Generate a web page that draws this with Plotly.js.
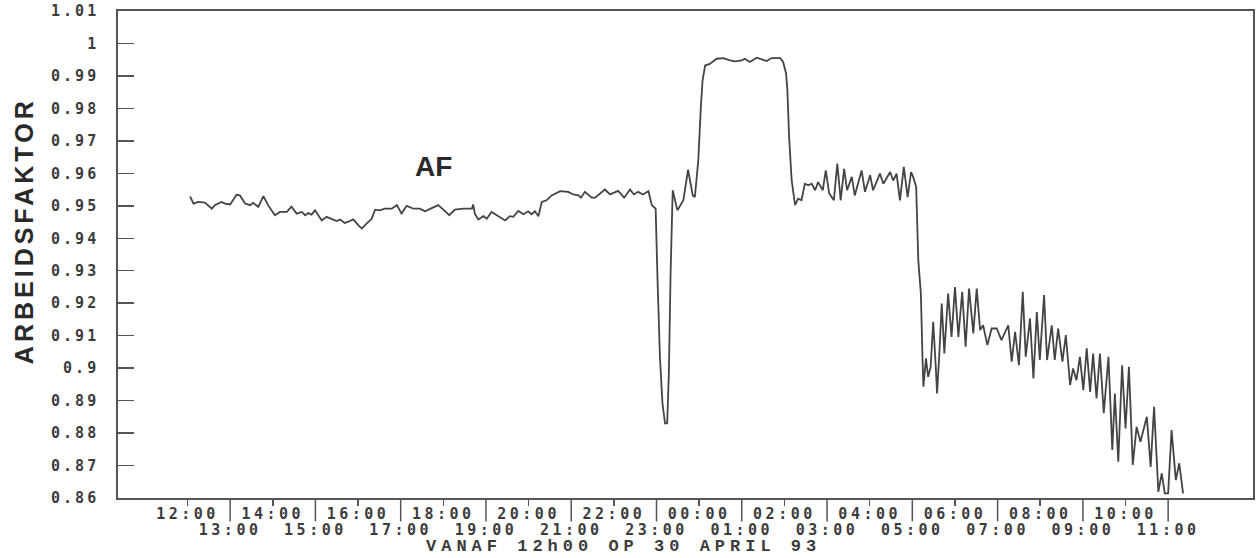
<!DOCTYPE html>
<html>
<head>
<meta charset="utf-8">
<script src="https://cdn.plot.ly/plotly-3.0.1.min.js"></script>
<style>
  html, body { margin: 0; padding: 0; background: #fff; }
  #chart { width: 1256px; height: 558px; }
  .xtick text, .x2tick text { letter-spacing: 3.5px; }
  .ytick text { letter-spacing: 3px; }
  .annotation[data-index="0"] text { letter-spacing: 4px; }
  .annotation[data-index="2"] text { letter-spacing: 5px; }
</style>
</head>
<body>
<div id="chart"></div>
<script>
// Time in hours from midnight of 30 April (values > 24 are next day)
const hours = [
  12.06,12.14,12.25,12.41,12.57,12.64,12.80,12.88,13.00,13.15,13.23,13.35,13.47,13.54,13.66,13.78,13.89,
  14.05,14.17,14.33,14.44,14.56,14.68,14.76,14.83,14.91,14.99,15.15,15.26,15.38,15.50,15.58,15.69,15.77,15.89,
  16.01,16.09,16.20,16.32,16.40,16.51,16.63,16.79,16.91,17.02,17.14,17.30,17.45,17.57,17.73,17.88,
  18.00,18.14,18.27,18.47,18.67,18.70,18.74,18.82,18.94,19.02,19.13,19.25,
  19.29,19.45,19.56,19.64,19.76,19.88,19.99,20.07,20.15,20.23,20.31,20.42,20.54,20.74,20.93,
  21.05,21.17,21.23,21.32,21.48,21.56,21.79,21.91,22.10,22.24,22.38,22.47,22.57,22.68,22.81,22.89,22.98,
  23.02,23.08,23.14,23.20,23.25,23.29,23.33,23.38,23.49,23.63,23.74,23.85,23.90,23.98,
  24.04,24.08,24.14,24.25,24.41,24.57,24.72,24.84,25.00,25.07,25.19,25.35,25.47,25.58,25.70,25.90,25.97,
  26.04,26.07,26.11,26.17,26.25,26.32,26.40,26.48,26.56,26.64,26.72,26.79,26.90,26.97,
  27.05,27.16,27.24,27.32,27.40,27.47,27.58,27.65,27.81,27.89,28.01,28.08,28.24,28.32,28.48,28.55,28.63,28.71,
  28.80,28.89,28.97,29.02,29.09,29.14,29.20,29.24,29.26,29.32,29.37,29.43,29.49,29.55,29.58,29.63,29.69,29.75,
  29.84,29.92,30.00,30.08,30.17,30.25,30.33,30.43,30.51,30.59,30.66,30.76,30.86,30.98,
  31.09,31.25,31.33,31.41,31.50,31.59,31.66,31.76,31.84,31.92,31.99,32.09,32.16,32.27,32.34,32.42,32.52,32.60,
  32.70,32.77,32.85,32.93,33.01,33.09,33.17,33.24,33.32,33.40,33.49,33.60,33.69,33.75,33.83,33.92,
  34.00,34.08,34.17,34.26,34.35,34.50,34.59,34.67,34.77,34.85,34.92,35.00,35.08,35.18,35.26,35.35
];
const af = [
  0.9529,0.9507,0.9512,0.9510,0.9491,0.9502,0.9512,0.9507,0.9504,0.9534,0.9532,0.9507,0.9502,0.9509,0.9497,0.9530,0.9502,
  0.9471,0.9481,0.9481,0.9497,0.9476,0.9481,0.9471,0.9478,0.9473,0.9486,0.9455,0.9466,0.9460,0.9453,0.9458,0.9447,0.9451,0.9458,
  0.9440,0.9430,0.9445,0.9460,0.9488,0.9486,0.9491,0.9491,0.9502,0.9476,0.9500,0.9491,0.9491,0.9483,0.9493,0.9502,
  0.9488,0.9471,0.9488,0.9491,0.9491,0.9504,0.9476,0.9458,0.9468,0.9460,0.9481,0.9471,
  0.9466,0.9455,0.9468,0.9466,0.9484,0.9474,0.9483,0.9474,0.9483,0.9468,0.9512,0.9517,0.9532,0.9545,0.9543,
  0.9535,0.9532,0.9525,0.9543,0.9525,0.9525,0.9550,0.9535,0.9546,0.9525,0.9550,0.9535,0.9543,0.9535,0.9545,0.9502,0.9491,
  0.9291,0.9035,0.8891,0.8830,0.8830,0.8984,0.9291,0.9548,0.9486,0.9517,0.9611,0.9532,0.9527,0.9640,
  0.9804,0.9886,0.9932,0.9937,0.9953,0.9955,0.9948,0.9945,0.9948,0.9953,0.9943,0.9956,0.9951,0.9946,0.9955,0.9955,0.9943,
  0.9907,0.9855,0.9712,0.9578,0.9502,0.9522,0.9517,0.9568,0.9563,0.9568,0.9548,0.9573,0.9548,0.9609,
  0.9538,0.9517,0.9630,0.9517,0.9614,0.9548,0.9589,0.9532,0.9609,0.9543,0.9594,0.9548,0.9599,0.9568,0.9604,0.9578,0.9599,0.9517,
  0.9620,0.9527,0.9604,0.9589,0.9558,0.9332,0.9230,0.9025,0.8943,0.9030,0.8973,0.9004,0.9143,0.9004,0.8922,0.9035,0.9199,0.9045,
  0.9230,0.9096,0.9250,0.9096,0.9235,0.9066,0.9245,0.9107,0.9245,0.9117,0.9132,0.9071,0.9122,0.9122,
  0.9086,0.9132,0.9020,0.9112,0.9009,0.9235,0.9035,0.9153,0.8968,0.9173,0.9025,0.9225,0.9025,0.9132,0.9025,0.9122,0.9020,0.9102,
  0.8948,0.8999,0.8963,0.9035,0.8932,0.9061,0.8927,0.9045,0.8907,0.9045,0.8861,0.9035,0.8748,0.8922,0.8712,0.9009,
  0.8814,0.9004,0.8702,0.8819,0.8773,0.8850,0.8696,0.8881,0.8619,0.8676,0.8614,0.8614,0.8809,0.8655,0.8707,0.8614
];

const tickHours = [12,13,14,15,16,17,18,19,20,21,22,23,24,25,26,27,28,29,30,31,32,33,34,35];
const tickLabels = ["12:00","13:00","14:00","15:00","16:00","17:00","18:00","19:00","20:00","21:00","22:00","23:00",
                    "00:00","01:00","02:00","03:00","04:00","05:00","06:00","07:00","08:00","09:00","10:00","11:00"];
const yTickVals = [0.86,0.87,0.88,0.89,0.90,0.91,0.92,0.93,0.94,0.95,0.96,0.97,0.98,0.99,1.00,1.01];
const yTickText = ["0.86","0.87","0.88","0.89","0.9","0.91","0.92","0.93","0.94","0.95","0.96","0.97","0.98","0.99","1","1.01"];

const yTitle = "ARBEIDSFAKTOR";
const seriesLabel = "AF";
const xTitle = "VANAF 12h00 OP 30 APRIL 93";
const labelPos = {hour: 17.78, value: 0.9622};

// even hours on first row, odd hours on second row
const evenHours = tickHours.filter((h, i) => i % 2 === 0);
const evenLabels = tickLabels.filter((t, i) => i % 2 === 0);
const oddHours = tickHours.filter((h, i) => i % 2 === 1);
const oddLabels = tickLabels.filter((t, i) => i % 2 === 1);

const ink = "#3c3c3c";
const frame = "#555555";
const xRange = [10.37, 36.99];
const tickFont = {family: "DejaVu Sans Mono", size: 15, color: ink, weight: "bold"};

const trace = {
  x: hours, y: af, type: "scatter", mode: "lines",
  line: {color: "#444444", width: 1.8},
  hoverinfo: "skip", showlegend: false
};
const oddAxisHolder = {
  x: [], y: [], xaxis: "x2", yaxis: "y", type: "scatter", mode: "lines",
  hoverinfo: "skip", showlegend: false
};

const shapes = oddHours.map(h => ({
  type: "line", xref: "x", yref: "paper",
  x0: h, x1: h, y0: 0, y1: -0.048,
  line: {color: frame, width: 1.5}
}));

const layout = {
  width: 1256, height: 558,
  margin: {l: 118, r: 3, t: 11, b: 60},
  paper_bgcolor: "#ffffff", plot_bgcolor: "#ffffff",
  showlegend: false,
  xaxis: {
    range: xRange,
    tickmode: "array", tickvals: evenHours, ticktext: evenLabels,
    tickangle: 0,
    ticks: "outside", ticklen: 6, tickwidth: 1.5, tickcolor: frame,
    ticklabelstandoff: -5,
    showline: true, mirror: true, linecolor: frame, linewidth: 1.8,
    showgrid: false, zeroline: false,
    tickfont: tickFont
  },
  xaxis2: {
    range: xRange, overlaying: "x", anchor: "y", side: "bottom",
    tickmode: "array", tickvals: oddHours, ticktext: oddLabels,
    tickangle: 0, ticks: "", ticklabelstandoff: 21,
    showline: false, showgrid: false, zeroline: false,
    tickfont: tickFont
  },
  yaxis: {
    range: [0.86, 1.01],
    tickmode: "array", tickvals: yTickVals, ticktext: yTickText,
    ticks: "inside", ticklen: 16, tickwidth: 1.5, tickcolor: frame,
    showline: true, mirror: true, linecolor: frame, linewidth: 1.8,
    showgrid: false, zeroline: false,
    ticklabelstandoff: 14,
    tickfont: tickFont
  },
  shapes: shapes,
  annotations: [
    {text: yTitle, xref: "paper", yref: "paper", x: -0.0828, y: 0.548,
     xanchor: "center", yanchor: "middle", textangle: -90, showarrow: false,
     font: {family: "Liberation Sans", size: 25, color: "#2a2a2a", weight: "bold"}},
    {text: seriesLabel, xref: "x", yref: "y", x: labelPos.hour, y: labelPos.value,
     xanchor: "center", yanchor: "middle", showarrow: false,
     font: {family: "Liberation Sans", size: 28, color: "#2a2a2a", weight: "bold"}},
    {text: xTitle, xref: "paper", yref: "paper", x: 0.445, y: -0.1005,
     xanchor: "center", yanchor: "middle", showarrow: false, borderpad: 0,
     font: {family: "Liberation Mono", size: 17, color: ink, weight: "bold"}}
  ]
};

Plotly.newPlot("chart", [trace, oddAxisHolder], layout, {displayModeBar: false, staticPlot: true});
</script>
</body>
</html>
